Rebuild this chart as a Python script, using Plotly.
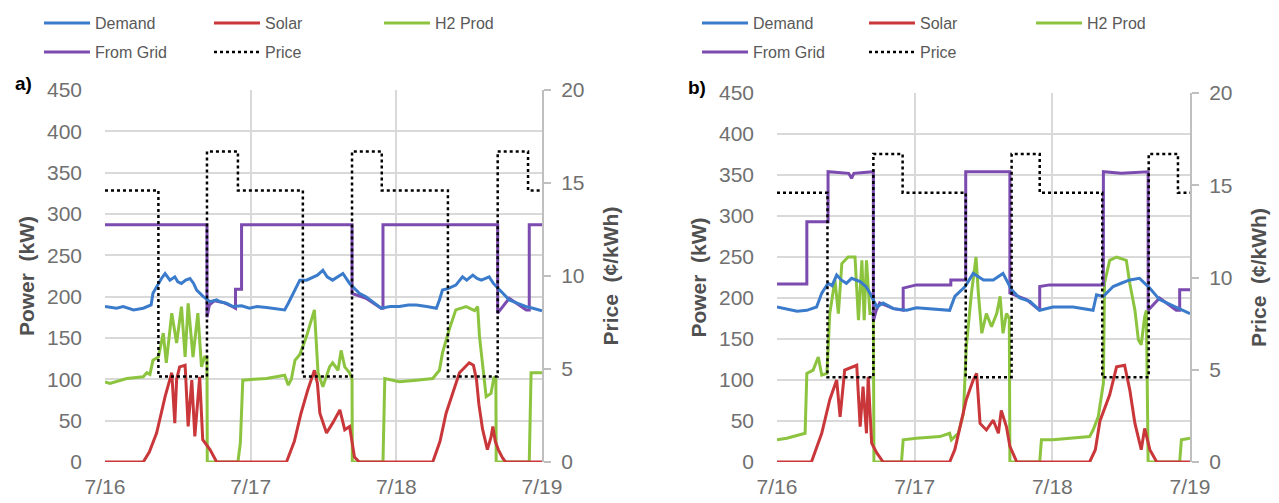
import plotly.graph_objects as go

# ---------------- data (hours since 7/16 00:00) ----------------
DAY_TICK_HOURS = [0, 24, 48, 72]
DAY_TICK_LABELS = ["7/16", "7/17", "7/18", "7/19"]
POWER_TICKS = [0, 50, 100, 150, 200, 250, 300, 350, 400, 450]
PRICE_TICKS = [0, 5, 10, 15, 20]

# ----- panel a) -----
A_DEMAND_H = [0, 1.9, 3.0, 4.7, 6.3, 6.9, 7.6, 7.9, 8.8, 9.3, 9.9, 10.4, 10.7, 11.5, 12.0, 12.6, 13.3, 14.0,
              14.6, 15.1, 16.2, 17.3, 18.4, 18.9, 20.0, 21.1, 22.5, 23.8, 25.0, 26.6, 28.0, 29.6, 30.2, 31.0,
              32.1, 33.2, 34.3, 35.0, 35.9, 36.6, 37.5, 38.4, 39.2, 40.3, 41.1, 41.9, 43.0, 45.5, 47.0, 48.5,
              50.0, 51.3, 53.0, 54.6, 55.1, 55.6, 56.6, 57.8, 58.9, 59.6, 60.6, 61.3, 62.0, 63.3, 64.0, 65.0,
              66.6, 68.0, 69.4, 70.5, 71.5, 72]
A_DEMAND_KW = [188, 186, 188, 184, 186, 188, 190, 204, 216, 222, 228, 222, 220, 224, 218, 216, 220, 222,
               216, 208, 200, 194, 196, 194, 192, 188, 189, 186, 188, 187, 186, 184, 192, 204,
               220, 220, 224, 226, 232, 224, 220, 224, 228, 216, 210, 204, 200, 186, 188, 188,
               190, 190, 188, 186, 196, 208, 210, 214, 224, 220, 226, 222, 220, 224, 216, 208,
               196, 192, 188, 186, 184, 183]

A_SOLAR_H = [0, 6.3, 7.3, 8.5, 9.3, 9.9, 11.0, 11.5, 11.8, 12.3, 13.2, 13.7, 14.3, 14.8, 15.6, 16.1, 17.3,
             18.4, 29.9, 31.2, 32.3, 33.4, 34.5, 35.0, 35.4, 36.5, 37.5, 38.7, 39.5, 40.3, 41.1, 41.9,
             54.0, 55.2, 56.2, 57.3, 58.4, 60.0, 60.7, 61.2, 61.6, 62.2, 63.0, 63.6, 63.9, 64.3, 64.8,
             65.5, 66.0, 72]
A_SOLAR_KW = [0, 0, 12, 35, 60, 79, 108, 47, 100, 115, 117, 43, 99, 31, 103, 27, 15,
              0, 0, 25, 59, 87, 111, 95, 59, 35, 47, 63, 39, 43, 6, 0,
              0, 25, 59, 85, 108, 120, 117, 100, 70, 40, 15, 30, 43, 25, 15,
              5, 0, 0]

A_H2_H = [0, 0.8, 3.6, 6.3, 6.9, 7.4, 7.9, 8.8, 9.6, 10.1, 11.0, 11.8, 12.6, 13.2, 13.7, 14.5, 15.3, 15.9,
          16.4, 16.8, 16.85, 21.9, 22.3, 22.7, 24.5, 26.6, 29.6, 30.2, 30.7, 31.3, 32.1, 33.2, 34.5, 35.1,
          35.9, 37.0, 37.5, 38.4, 38.9, 39.5, 40.3, 40.7, 40.75, 45.8, 46.1, 48.5, 51.3, 54.0, 55.1, 55.6,
          56.7, 57.8, 59.5, 60.9, 61.4, 61.7, 62.8, 63.6, 64.1, 64.4, 64.45, 69.9, 70.2, 72]
A_H2_KW = [97, 95, 101, 103, 108, 106, 123, 127, 156, 120, 180, 144, 188, 127, 192, 127, 180, 115,
           127, 127, 0, 0, 23, 99, 100, 101, 105, 93, 100, 123, 130, 152, 184, 108,
           91, 115, 120, 111, 135, 115, 108, 100, 0, 0, 101, 97, 99, 101, 111, 132,
           160, 184, 188, 183, 188, 152, 79, 83, 103, 100, 0, 0, 108, 108]

A_GRID_H = [0, 16.8, 16.8, 17.2, 18.0, 19.5, 21.0, 21.5, 21.5, 22.5, 22.5, 40.7, 40.7, 43.0, 45.5, 45.8,
            45.8, 64.7, 64.7, 66.6, 69.4, 69.9, 69.9, 72]
A_GRID_KW = [287, 287, 175, 190, 195, 193, 188, 186, 209, 209, 287, 287, 204, 198, 186, 186,
             287, 287, 180, 198, 184, 184, 287, 287]

A_PRICE_H = [0, 8.8, 16.8, 21.9, 32.6, 40.7, 45.6, 56.5, 64.7, 69.7, 72]
A_PRICE_C = [14.6, 4.6, 16.7, 14.6, 4.6, 16.7, 14.6, 4.6, 16.7, 14.6, 14.6]

# ----- panel b) -----
B_DEMAND_H = [0, 1.7, 3.5, 5.2, 6.9, 7.8, 8.9, 9.6, 10.4, 11.2, 12.1, 13.0, 14.5, 15.5, 16.2, 17.4, 18.5,
              20.3, 22.6, 24.3, 26.1, 28.4, 30.1, 31.0, 32.8, 34.2, 35.0, 36.0, 37.7, 39.4, 40.9, 42.3,
              44.1, 45.8, 48.1, 51.6, 55.1, 55.7, 56.9, 58.6, 60.0, 61.5, 63.2, 65.0, 66.7, 69.0, 72]
B_DEMAND_KW = [189, 187, 184, 185, 189, 206, 218, 215, 228, 222, 218, 224, 220, 214, 206, 189, 194,
               187, 185, 188, 187, 186, 185, 202, 214, 230, 226, 222, 222, 230, 210, 200,
               196, 185, 189, 189, 185, 204, 202, 214, 218, 222, 224, 212, 198, 191, 181]

B_SOLAR_H = [0, 6.0, 7.8, 9.2, 10.4, 11.0, 11.8, 13.9, 14.5, 15.0, 15.6, 15.9, 16.5, 17.4, 18.5,
             30.1, 31.0, 32.0, 33.0, 34.2, 34.8, 35.4, 36.5, 37.7, 38.6, 39.1, 40.0, 40.6, 41.8,
             54.5, 55.5, 56.3, 58.0, 59.2, 60.6, 61.5, 62.4, 63.5, 64.1, 65.0, 66.2, 72]
B_SOLAR_KW = [0, 0, 35, 76, 100, 55, 112, 118, 43, 92, 35, 104, 23, 11, 0,
              0, 15, 45, 76, 100, 108, 47, 39, 51, 35, 63, 43, 19, 0,
              0, 15, 50, 82, 116, 118, 88, 47, 15, 41, 15, 0, 0]

B_H2_H = [0, 1.7, 4.9, 5.2, 6.3, 7.2, 7.8, 8.7, 9.2, 10.1, 10.7, 11.3, 12.4, 13.6, 14.2, 14.8, 15.2,
          15.6, 16.2, 16.8, 16.9, 21.7, 22.0, 24.3, 28.4, 30.1, 30.4, 31.6, 32.5, 33.0, 33.9, 34.7,
          35.1, 35.7, 36.5, 37.4, 38.3, 38.9, 39.4, 40.0, 40.5, 40.6, 45.8, 46.1, 48.1, 51.6, 54.5,
          55.1, 56.0, 56.9, 57.1, 58.0, 59.2, 60.9, 61.5, 62.4, 63.0, 63.5, 64.1, 64.4, 64.7, 70.2,
          70.5, 72]
B_H2_KW = [27, 29, 35, 108, 112, 128, 106, 108, 181, 222, 181, 242, 250, 250, 173, 246, 173,
           246, 181, 181, 0, 0, 27, 29, 31, 35, 27, 35, 59, 140, 206, 250,
           206, 157, 181, 165, 181, 202, 157, 181, 175, 0, 0, 27, 27, 29, 31,
           39, 55, 96, 218, 246, 250, 246, 218, 185, 149, 143, 177, 185, 0, 0,
           27, 29]

B_GRID_H = [0, 5.2, 5.2, 8.9, 8.9, 12.5, 13.0, 13.4, 16.8, 16.8, 17.3, 17.9, 20.3, 22.0, 22.0, 24.3,
            30.3, 30.3, 32.9, 32.9, 40.6, 40.6, 43.5, 45.8, 45.8, 47.5, 56.9, 56.9, 60.0, 64.7, 64.7,
            66.7, 69.6, 70.2, 70.2, 72]
B_GRID_KW = [217, 217, 293, 293, 354, 352, 346, 352, 354, 172, 185, 194, 187, 185, 212, 216,
             216, 222, 222, 354, 354, 206, 198, 185, 214, 216, 216, 354, 352, 354, 185,
             200, 185, 185, 210, 210]

B_PRICE_H = [0, 8.8, 16.8, 21.9, 32.9, 40.9, 45.8, 56.7, 64.8, 69.9, 72]
B_PRICE_C = [14.6, 4.6, 16.7, 14.6, 4.6, 16.7, 14.6, 4.6, 16.7, 14.6, 14.6]

# ---------------- styling ----------------
W, H = 1279, 503
FONT = "Liberation Sans, Arial, sans-serif"
C_DEMAND = "#3b7bcb"
C_SOLAR = "#c9373a"
C_H2 = "#8cc43f"
C_GRID = "#7b4bb0"
GRIDC = "#d9d9d9"
TICKC = "#707070"
TITLEC = "#505050"
LW = 3


def px_x(p):
    return p / W


def px_y(p):
    return 1 - p / H


fig = go.Figure()


def add_panel(xa, ya, ya2, leg1, leg2, d_h, d_kw, s_h, s_kw, h_h, h_kw, g_h, g_kw, p_h, p_c):
    fig.add_trace(go.Scatter(x=p_h, y=p_c, name="Price", mode="lines", line_shape="hv",
                             line=dict(color="black", width=2.5, dash="dot"),
                             xaxis=xa, yaxis=ya2, legend=leg2, legendrank=5))
    fig.add_trace(go.Scatter(x=h_h, y=h_kw, name="H2 Prod", mode="lines",
                             line=dict(color=C_H2, width=LW), xaxis=xa, yaxis=ya,
                             legend=leg1, legendrank=3))
    fig.add_trace(go.Scatter(x=s_h, y=s_kw, name="Solar", mode="lines",
                             line=dict(color=C_SOLAR, width=LW), xaxis=xa, yaxis=ya,
                             legend=leg1, legendrank=2))
    fig.add_trace(go.Scatter(x=g_h, y=g_kw, name="From Grid", mode="lines",
                             line=dict(color=C_GRID, width=LW), xaxis=xa, yaxis=ya,
                             legend=leg2, legendrank=4))
    fig.add_trace(go.Scatter(x=d_h, y=d_kw, name="Demand", mode="lines",
                             line=dict(color=C_DEMAND, width=LW), xaxis=xa, yaxis=ya,
                             legend=leg1, legendrank=1))


add_panel("x", "y", "y2", "legend", "legend2",
          A_DEMAND_H, A_DEMAND_KW, A_SOLAR_H, A_SOLAR_KW, A_H2_H, A_H2_KW,
          A_GRID_H, A_GRID_KW, A_PRICE_H, A_PRICE_C)
add_panel("x2", "y3", "y4", "legend3", "legend4",
          B_DEMAND_H, B_DEMAND_KW, B_SOLAR_H, B_SOLAR_KW, B_H2_H, B_H2_KW,
          B_GRID_H, B_GRID_KW, B_PRICE_H, B_PRICE_C)

TICKFONT = dict(family=FONT, size=21, color=TICKC)
TITLEFONT = dict(family=FONT, size=21, color=TITLEC, weight="bold")

xcommon = dict(range=[0, 72], tickvals=DAY_TICK_HOURS, ticktext=DAY_TICK_LABELS,
               showgrid=True, gridcolor=GRIDC, gridwidth=2, zeroline=False, showline=False,
               ticks="", tickfont=TICKFONT, ticklabelstandoff=10, automargin=False,
               fixedrange=True)
ycommon = dict(range=[0, 450], tickvals=POWER_TICKS, showgrid=True, gridcolor=GRIDC, gridwidth=2,
               zeroline=False, showline=False, ticks="", tickfont=TICKFONT, ticklabelstandoff=22,
               title=dict(text="Power  (kW)", font=TITLEFONT, standoff=6),
               automargin=False, fixedrange=True)
y2common = dict(range=[0, 20], tickvals=PRICE_TICKS, side="right", showgrid=False, zeroline=False,
                showline=True, linecolor="#bfbfbf", linewidth=2, ticks="outside", ticklen=7,
                tickwidth=2, tickcolor="#bfbfbf", tickfont=TICKFONT, ticklabelstandoff=6,
                title=dict(text="Price  (¢/kWh)", font=TITLEFONT, standoff=20),
                automargin=False, fixedrange=True)

ydomA = [px_y(462), px_y(90)]
ydomB = [px_y(462), px_y(93)]

fig.update_layout(
    width=W, height=H,
    margin=dict(l=0, r=0, t=0, b=0),
    paper_bgcolor="white", plot_bgcolor="white",
    xaxis=dict(domain=[px_x(105), px_x(542)], anchor="y", **xcommon),
    xaxis2=dict(domain=[px_x(777), px_x(1190)], anchor="y3", **xcommon),
    yaxis=dict(domain=ydomA, anchor="x", **ycommon),
    yaxis2=dict(domain=ydomA, anchor="x", overlaying="y", **y2common),
    yaxis3=dict(domain=ydomB, anchor="x2", **ycommon),
    yaxis4=dict(domain=ydomB, anchor="x2", overlaying="y3", **y2common),
    showlegend=True,
)

legfont = dict(family=FONT, size=16, color="#595959")
legbase = dict(orientation="h", xanchor="left", yanchor="middle", itemwidth=46,
               entrywidthmode="pixels", font=legfont, bgcolor="rgba(0,0,0,0)",
               traceorder="normal", itemclick=False, itemdoubleclick=False)
fig.update_layout(
    legend=dict(x=px_x(39), y=px_y(23), entrywidth=109, **legbase),
    legend2=dict(x=px_x(39), y=px_y(52), entrywidth=109, **legbase),
    legend3=dict(x=px_x(697), y=px_y(23), entrywidth=106, **legbase),
    legend4=dict(x=px_x(697), y=px_y(52), entrywidth=106, **legbase),
)

for label, cx, cy in [("a)", 23, 83), ("b)", 697, 87)]:
    fig.add_annotation(text=label, x=px_x(cx), y=px_y(cy), xref="paper", yref="paper",
                       showarrow=False, xanchor="center", yanchor="middle",
                       font=dict(family=FONT, size=19, color="black", weight="bold"))

fig.write_html("out.html", config={"displayModeBar": False},
               post_script="document.body.style.margin='0';document.body.style.overflow='hidden';")
